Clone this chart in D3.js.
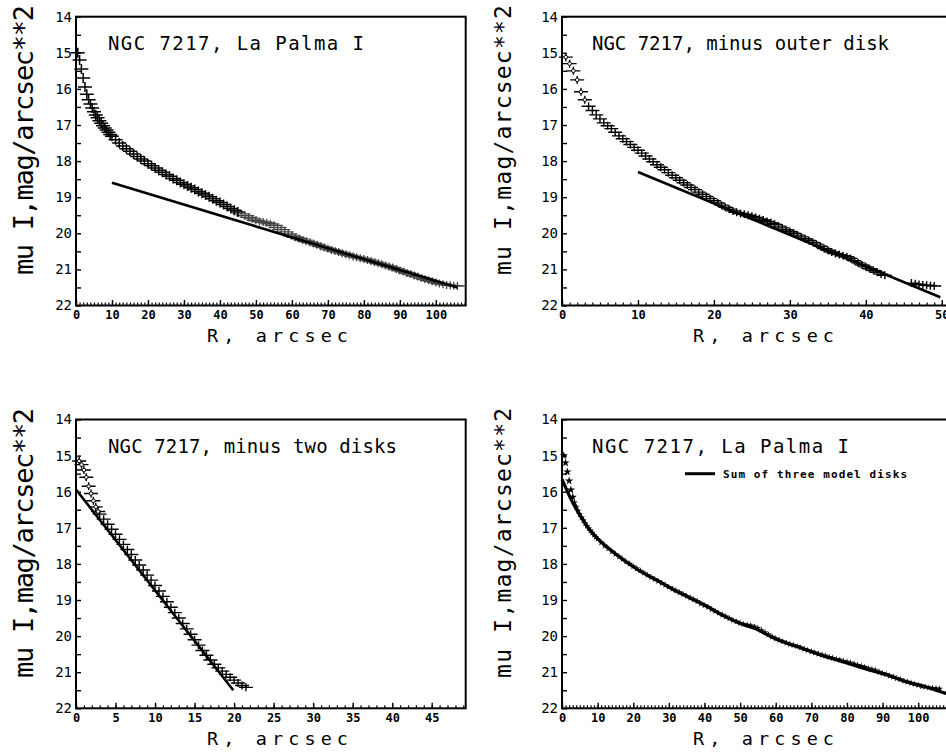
<!DOCTYPE html>
<html>
<head>
<meta charset="utf-8">
<script src="https://cdn.jsdelivr.net/npm/d3@7"></script>
<style>
  html, body { margin: 0; padding: 0; background: #fff; }
  svg { display: block; }
  text { font-family: 'DejaVu Sans Mono', monospace; fill: #000; }
</style>
</head>
<body>
<svg id="fig" width="946" height="753"></svg>
<script>
// ---- Observed profile, NGC 7217 (La Palma, I band): radius (arcsec) and mu_I (mag/arcsec^2)
const laPalmaR = [0.5,1,1.5,2,2.5,3,3.5,4,4.5,5,5.5,6,6.5,7,7.5,8,8.5,9,9.5,10,
  11,12,13,14,15,16,17,18,19,20,21,22,23,24,25,26,27,28,29,30,
  31,32,33,34,35,36,37,38,39,40,41,42,43,44,45,46,47,48,49,50,
  51,52,53,54,55,56,57,58,59,60,61,62,63,64,65,66,67,68,69,70,
  71,72,73,74,75,76,77,78,79,80,81,82,83,84,85,86,87,88,89,90,
  91,92,93,94,95,96,97,98,99,100,101,102,103,104,105,106];
const laPalmaMu = [15.0,15.2,15.45,15.7,15.95,16.15,16.3,16.42,16.53,16.63,16.72,16.8,16.88,16.95,17.02,17.08,17.14,17.2,17.26,17.31,
  17.41,17.5,17.58,17.66,17.73,17.8,17.87,17.94,18.0,18.07,18.13,18.19,18.25,18.31,18.37,18.42,18.48,18.53,18.59,18.64,
  18.69,18.74,18.79,18.84,18.89,18.94,18.99,19.04,19.1,19.15,19.2,19.26,19.31,19.36,19.41,19.46,19.51,19.56,19.6,19.64,
  19.67,19.69,19.71,19.74,19.78,19.84,19.9,19.96,20.02,20.07,20.11,20.15,20.19,20.22,20.25,20.28,20.32,20.36,20.39,20.43,
  20.46,20.49,20.52,20.55,20.58,20.61,20.64,20.66,20.69,20.71,20.74,20.77,20.8,20.83,20.86,20.89,20.92,20.95,20.99,21.03,
  21.06,21.1,21.13,21.17,21.2,21.24,21.27,21.3,21.33,21.36,21.39,21.41,21.43,21.44,21.45,21.46];

// ---- Outer exponential disk fit (straight line in mag)
const outerDiskR  = [10, 106];
const outerDiskMu = [18.6, 21.5];

// ---- Profile after subtracting the outer disk
const minusOuterR = [0.5,1,1.5,2,2.5,3,3.5,4,4.5,5,5.5,6,6.5,7,7.5,8,8.5,9,9.5,10,
  10.5,11,11.5,12,12.5,13,13.5,14,14.5,15,15.5,16,16.5,17,17.5,18,18.5,19,19.5,20,
  20.5,21,21.5,22,22.5,23,23.5,24,24.5,25,25.5,26,26.5,27,27.5,28,28.5,29,29.5,30,
  30.5,31,31.5,32,32.5,33,33.5,34,34.5,35,35.5,36,36.5,37,37.5,38,38.5,39,39.5,40,
  40.5,41,41.5,42,42.5,46,46.5,47,47.5,48,48.5,49];
const minusOuterMu = [15.12,15.3,15.5,15.75,16.08,16.3,16.48,16.6,16.72,16.83,16.94,17.02,17.1,17.2,17.3,17.38,17.46,17.54,17.62,17.7,
  17.78,17.86,17.94,18.02,18.1,18.17,18.24,18.32,18.39,18.46,18.53,18.6,18.66,18.73,18.79,18.86,18.92,18.98,19.04,19.1,
  19.16,19.22,19.28,19.33,19.38,19.42,19.45,19.47,19.5,19.53,19.56,19.6,19.63,19.67,19.71,19.75,19.8,19.85,19.9,19.95,
  20.0,20.05,20.1,20.15,20.2,20.25,20.3,20.36,20.42,20.47,20.52,20.56,20.59,20.62,20.65,20.7,20.76,20.82,20.88,20.93,
  20.98,21.03,21.08,21.13,21.16,21.38,21.4,21.42,21.43,21.44,21.45,21.46];

// ---- Second (intermediate) disk fit
const midDiskR  = [10, 49.8];
const midDiskMu = [18.3, 21.77];

// ---- Profile after subtracting both outer disks
const minusTwoR = [0.4,0.7,1.0,1.3,1.6,1.9,2.2,2.5,2.8,
  3,3.5,4,4.5,5,5.5,6,6.5,7,7.5,8,8.5,9,9.5,10,10.5,11,11.5,12,12.5,
  13,13.5,14,14.5,15,15.5,16,16.5,17,17.5,18,18.5,19,19.5,20,20.5,21,21.5];
const minusTwoMu = [15.15,15.25,15.4,15.6,15.85,16.05,16.25,16.42,16.55,
  16.62,16.76,16.9,17.04,17.18,17.32,17.46,17.6,17.74,17.89,18.03,18.17,18.31,18.45,18.6,18.75,18.9,19.05,19.2,19.35,
  19.5,19.65,19.8,19.95,20.1,20.25,20.4,20.53,20.66,20.78,20.88,20.97,21.06,21.14,21.22,21.3,21.37,21.42];
const nCoreCircles = 9; // innermost points drawn as open circles

// ---- Inner disk fit
const innerDiskR  = [0, 19.9];
const innerDiskMu = [15.94, 21.5];

// ---- Sum of the three model disks
const modelSumR  = [0,1,2,3,4,5,6,7,8,10,12.3,15,17,20,21.7,25,26.4,30,31,35.7,40.4,45,49.7,54.4,59,63.7,68.4,73,77.8,82.4,87,91.8,96.4,101,107.6,110];
const modelSumMu = [15.66,15.88,16.1,16.3,16.48,16.64,16.79,16.95,17.08,17.3,17.5,17.72,17.87,18.08,18.19,18.37,18.44,18.64,18.7,18.93,19.16,19.42,19.64,19.8,20.03,20.22,20.37,20.54,20.68,20.82,20.96,21.09,21.26,21.37,21.58,21.63];

// ---- Axis ticks
const yTicks        = [14,15,16,17,18,19,20,21,22];
const xTicksWide    = [0,10,20,30,40,50,60,70,80,90,100];
const xTicksMid     = [0,10,20,30,40,50];
const xTicksNarrow  = [0,5,10,15,20,25,30,35,40,45];

// ---- Texts
const yLabel = "mu I,mag/arcsec**2";
const xLabel = "R, arcsec";
const titles = ["NGC 7217, La Palma I", "NGC 7217, minus outer disk",
                "NGC 7217, minus two disks", "NGC 7217, La Palma I"];
const legendLabel = "Sum of three model disks";

const zip = (a, b) => a.map((v, i) => [v, b[i]]);

const svg = d3.select("#fig");
svg.append("rect").attr("width", 946).attr("height", 753).attr("fill", "#fff");

const panels = [
  { left: 76,  top: 16.7,  xMax: 108.3, xTicks: xTicksWide,   yLabFont: 27, labX: 33,
    title: titles[0], titleX: 108, titleLen: 256 },
  { left: 562, top: 16.7,  xMax: 51.3,  xTicks: xTicksMid,    yLabFont: 23, labX: 511,
    title: titles[1], titleX: 592, titleLen: 297 },
  { left: 76,  top: 419.5, xMax: 49.3,  xTicks: xTicksNarrow, yLabFont: 27, labX: 33,
    title: titles[2], titleX: 108, titleLen: 289 },
  { left: 562, top: 419.5, xMax: 109.4, xTicks: xTicksWide,   yLabFont: 23, labX: 511,
    title: titles[3], titleX: 592, titleLen: 257 }
];
const W = 389.7, H = 288.8;

function setup(p) {
  const g = svg.append("g");
  const x = d3.scaleLinear().domain([0, p.xMax]).range([p.left, p.left + W]);
  const y = d3.scaleLinear().domain([14, 22]).range([p.top, p.top + H]);
  const bottom = p.top + H;

  // minor x ticks every arcsec
  g.append("g").attr("transform", `translate(0,${bottom})`)
    .call(d3.axisBottom(x).tickValues(d3.range(0, p.xMax, 1)).tickSize(-3).tickFormat(""))
    .call(s => s.select(".domain").remove())
    .call(s => s.selectAll("line").attr("stroke", "#000").attr("stroke-width", 1.2));

  // labelled x ticks
  g.append("g").attr("transform", `translate(0,${bottom})`)
    .call(d3.axisBottom(x).tickValues(p.xTicks).tickSize(-5.5).tickPadding(5).tickFormat(d3.format("d")))
    .call(s => s.select(".domain").remove())
    .call(s => s.selectAll("line").attr("stroke", "#000").attr("stroke-width", 1.4))
    .call(s => s.selectAll("text").attr("fill", "#000").attr("font-family", null)
      .style("font-weight", "bold").style("font-size", "12px"));

  // y ticks every half magnitude, labelled on whole magnitudes
  g.append("g").attr("transform", `translate(${p.left},0)`)
    .call(d3.axisLeft(y).tickValues(d3.range(14, 22.01, 0.5)).tickSize(-5).tickPadding(4)
      .tickFormat(d => yTicks.includes(d) ? String(d) : ""))
    .call(s => s.select(".domain").remove())
    .call(s => s.selectAll("line").attr("stroke", "#000").attr("stroke-width", 1.4))
    .call(s => s.selectAll("text").attr("fill", "#000").attr("font-family", null)
      .style("font-size", "14px"));

  // frame
  g.append("rect").attr("x", p.left).attr("y", p.top).attr("width", W).attr("height", H)
    .attr("fill", "none").attr("stroke", "#000").attr("stroke-width", 2);

  // axis titles
  const cy = p.top + H / 2 - 21;
  g.append("text")
    .attr("transform", `translate(${p.labX},${cy}) rotate(-90)`)
    .attr("text-anchor", "middle")
    .attr("textLength", 270).attr("lengthAdjust", "spacing")
    .style("font-size", p.yLabFont + "px")
    .text(yLabel);

  const xl = p.left < 300 ? 207 : 693;
  g.append("text").attr("x", xl).attr("y", bottom + 36.5)
    .attr("textLength", 141).attr("lengthAdjust", "spacing")
    .style("font-size", "18.5px")
    .text(xLabel);

  g.append("text").attr("x", p.titleX).attr("y", p.top + 33.5)
    .attr("textLength", p.titleLen).attr("lengthAdjust", "spacing")
    .style("font-size", "19px")
    .text(p.title);

  return { g, x, y };
}

const line = (x, y) => d3.line().x(d => x(d[0])).y(d => y(d[1]));

function crosses(g, x, y, pts, hw, hh, color, sw) {
  g.append("path")
    .attr("d", pts.map(d => {
      const px = x(d[0]), py = y(d[1]);
      return `M${px - hw},${py}h${2 * hw}M${px},${py - hh}v${2 * hh}`;
    }).join(""))
    .attr("fill", "none").attr("stroke", color).attr("stroke-width", sw);
}

function circles(g, x, y, pts, r) {
  g.append("g").selectAll("circle").data(pts).join("circle")
    .attr("cx", d => x(d[0])).attr("cy", d => y(d[1])).attr("r", r)
    .attr("fill", "#fff").attr("stroke", "#000").attr("stroke-width", 1);
}

// ---- Panel 1: observed profile with the outer disk fit
{
  const { g, x, y } = setup(panels[0]);
  const pts = zip(laPalmaR, laPalmaMu);
  crosses(g, x, y, pts.slice(55), 9, 4, "#444", 1.3);
  crosses(g, x, y, pts.slice(0, 55), 7, 5, "#000", 1.5);
  g.append("path").datum(zip(outerDiskR, outerDiskMu)).attr("d", line(x, y))
    .attr("fill", "none").attr("stroke", "#000").attr("stroke-width", 2.6);
}

// ---- Panel 2: outer disk removed, with the intermediate disk fit
{
  const { g, x, y } = setup(panels[1]);
  const pts = zip(minusOuterR, minusOuterMu);
  crosses(g, x, y, pts, 7, 4, "#000", 1.4);
  circles(g, x, y, pts.slice(0, 6), 1.8);
  g.append("path").datum(zip(midDiskR, midDiskMu)).attr("d", line(x, y))
    .attr("fill", "none").attr("stroke", "#000").attr("stroke-width", 2.6);
}

// ---- Panel 3: two disks removed, with the inner disk fit
{
  const { g, x, y } = setup(panels[2]);
  const pts = zip(minusTwoR, minusTwoMu);
  crosses(g, x, y, pts, 7, 4, "#000", 1.4);
  circles(g, x, y, pts.slice(0, nCoreCircles), 1.8);
  g.append("path").datum(zip(innerDiskR, innerDiskMu)).attr("d", line(x, y))
    .attr("fill", "none").attr("stroke", "#000").attr("stroke-width", 2.6);
}

// ---- Panel 4: observed profile against the sum of the three model disks
{
  const { g, x, y } = setup(panels[3]);
  const pts = zip(laPalmaR, laPalmaMu);
  const star = d3.symbol().type(d3.symbolStar);
  g.append("g").selectAll("path").data(pts).join("path")
    .attr("transform", d => `translate(${x(d[0])},${y(d[1])})`)
    .attr("d", (d, i) => star.size(i < 6 ? 22 : 14)())
    .attr("fill", "#000");
  g.append("path").datum(zip(modelSumR, modelSumMu))
    .attr("d", line(x, y).curve(d3.curveMonotoneX))
    .attr("fill", "none").attr("stroke", "#000").attr("stroke-width", 3.2);

  // legend
  const ly = 473.7;
  g.append("line").attr("x1", 685).attr("x2", 715).attr("y1", ly).attr("y2", ly)
    .attr("stroke", "#000").attr("stroke-width", 3);
  g.append("text").attr("x", 723).attr("y", ly + 4)
    .attr("textLength", 184).attr("lengthAdjust", "spacing")
    .style("font-size", "11px").style("font-weight", "bold")
    .text(legendLabel);
}
</script>
</body>
</html>
